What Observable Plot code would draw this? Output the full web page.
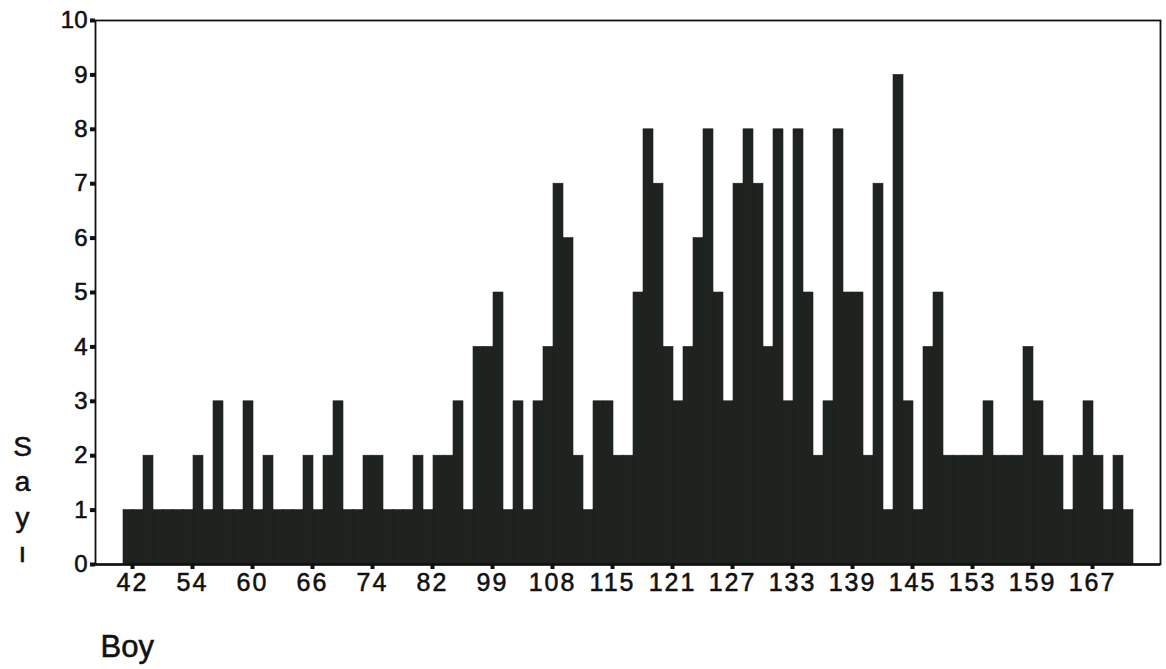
<!DOCTYPE html>
<html>
<head>
<meta charset="utf-8">
<script src="https://cdn.jsdelivr.net/npm/d3@7"></script>
<script src="https://cdn.jsdelivr.net/npm/@observablehq/plot@0.6"></script>
<style>
  body { margin: 0; background: #fff; }
  #chart svg { display: block; }
  #chart svg text { stroke: #111; stroke-width: 0.55px; }
  #chart g[aria-label="x-axis tick label"] text { letter-spacing: 2px; }
</style>
</head>
<body>
<div id="chart"></div>
<script>
// Boy (height) categories, one per bar (labelled every 6th bar)
const boyValues = [
  42, 44, 46, 48, 50, 52,
  54, 55, 56, 57, 58, 59,
  60, 61, 62, 63, 64, 65,
  66, 67, 68, 69, 71, 72,
  74, 75, 76, 78, 79, 80,
  82, 84, 87, 90, 93, 96,
  99, 100, 102, 103, 105, 106,
  108, 109, 110, 111, 112, 114,
  115, 116, 117, 118, 119, 120,
  121, 122, 123, 124, 125, 126,
  127, 128, 129, 130, 131, 132,
  133, 134, 135, 136, 137, 138,
  139, 140, 141, 142, 143, 144,
  145, 146, 148, 149, 150, 152,
  153, 154, 155, 156, 157, 158,
  159, 160, 161, 163, 164, 166,
  167, 168, 169, 170, 172
];
// Sayı (count) per category
const counts = [
  1, 1, 2, 1, 1, 1,
  1, 2, 1, 3, 1, 1,
  3, 1, 2, 1, 1, 1,
  2, 1, 2, 3, 1, 1,
  2, 2, 1, 1, 1, 2,
  1, 2, 2, 3, 1, 4,
  4, 5, 1, 3, 1, 3,
  4, 7, 6, 2, 1, 3,
  3, 2, 2, 5, 8, 7,
  4, 3, 4, 6, 8, 5,
  3, 7, 8, 7, 4, 8,
  3, 8, 5, 2, 3, 8,
  5, 5, 2, 7, 1, 9,
  3, 1, 4, 5, 2, 2,
  2, 2, 3, 2, 2, 2,
  4, 3, 2, 2, 1, 2,
  3, 2, 1, 2, 1
];
const xTickLabels = ["42", "54", "60", "66", "74", "82", "99", "108", "115", "121", "127", "133", "139", "145", "153", "159", "167"];
const yTickValues = [0, 1, 2, 3, 4, 5, 6, 7, 8, 9, 10];
const yTitle = "S\na\ny\nı";
const xTitle = "Boy";

const data = boyValues.map((b, i) => ({boy: String(b), n: counts[i]}));
const barColor = "#1e231f";

const chart = Plot.plot({
  width: 1166,
  height: 669,
  marginLeft: 95,
  marginRight: 6,
  marginTop: 20,
  marginBottom: 105,
  style: {fontFamily: "'Liberation Sans', Arial, sans-serif", background: "#fff", color: "#111"},
  x: {type: "band", domain: data.map(d => d.boy), range: [121.7, 1134], padding: 0},
  y: {domain: [0, 10]},
  marks: [
    Plot.barY(data, {x: "boy", y: "n", fill: barColor, stroke: barColor, strokeWidth: 0.6}),
    Plot.frame({stroke: "#111", strokeWidth: 1.8}),
    Plot.ruleY([0], {stroke: "#111", strokeWidth: 2.5}),
    Plot.axisX({ticks: xTickLabels, tickSize: 5, tickPadding: 4, strokeWidth: 4, fontSize: 25, dx: 4, label: null, fill: "#111"}),
    Plot.axisY({ticks: yTickValues, tickSize: 5, tickPadding: 3, strokeWidth: 4, fontSize: 24, label: null, fill: "#111"}),
    Plot.text([yTitle], {text: d => d, frameAnchor: "left", dx: -73, dy: 205, fontSize: 28, lineHeight: 1.27, textAnchor: "middle", fill: "#111"}),
    Plot.text([xTitle], {text: d => d, frameAnchor: "bottom-left", dx: 5, dy: 92, fontSize: 31, textAnchor: "start", fill: "#111"})
  ]
});
document.getElementById("chart").append(chart);
</script>
</body>
</html>
